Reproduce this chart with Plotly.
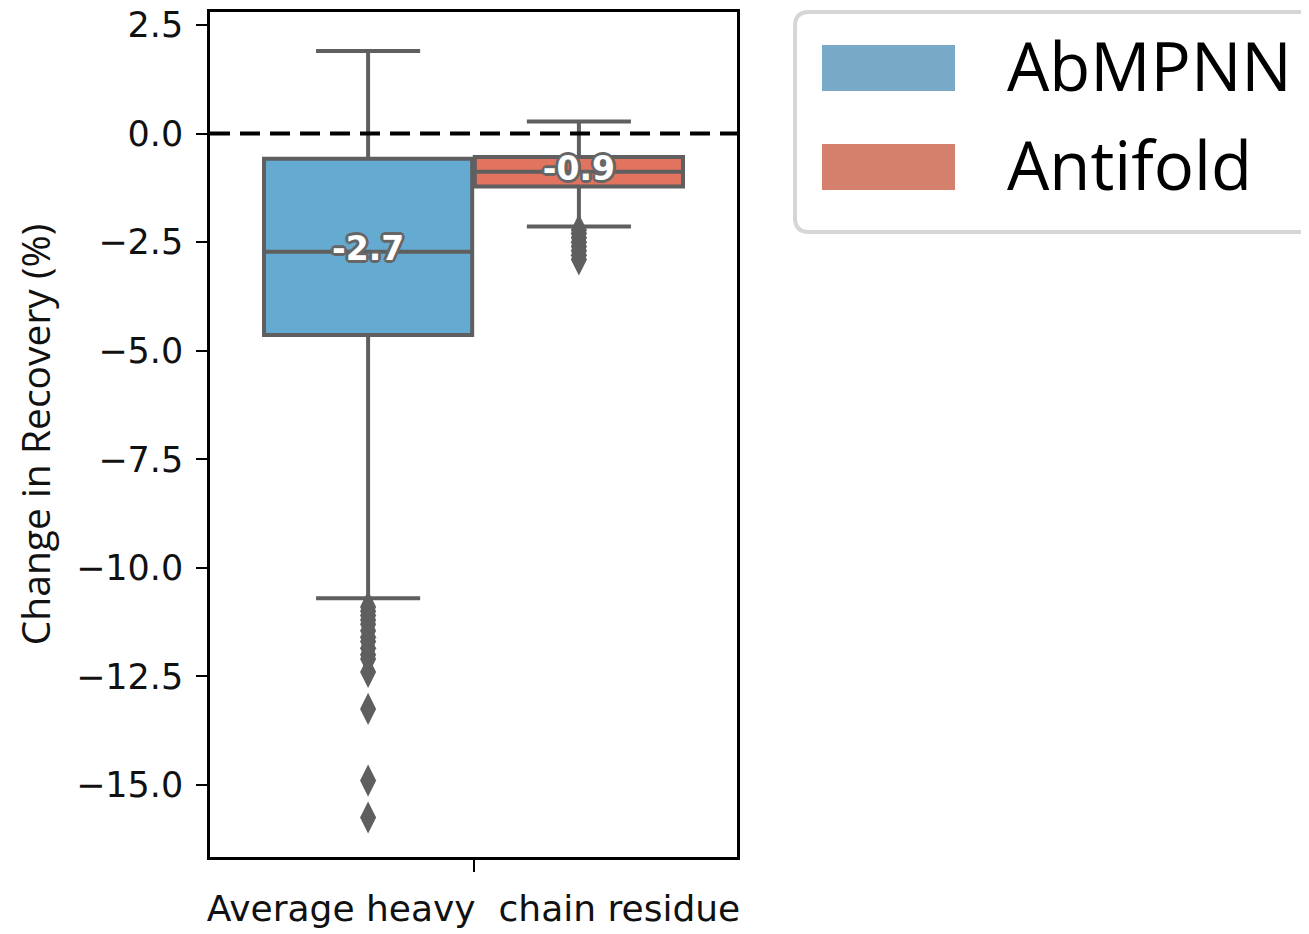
import plotly.graph_objects as go

# ---- data ----
category = ["Average heavy  chain residue"]
series = ["AbMPNN", "Antifold"]
q1 = [-4.64, -1.22]
median = [-2.72, -0.88]
q3 = [-0.58, -0.54]
lower_whisker = [-10.70, -2.14]
upper_whisker = [1.90, 0.28]
outliers_abmpnn = [-10.9, -11.0, -11.1, -11.2, -11.3, -11.45, -11.6, -11.7, -11.85,
                   -12.0, -12.1, -12.4, -13.25, -14.9, -15.75]
outliers_antifold = [-2.22, -2.3, -2.4, -2.5, -2.6, -2.7, -2.8, -2.9]
outliers = [outliers_abmpnn, outliers_antifold]
box_colors = ["#65aad1", "#e2735f"]
legend_colors = ["#78aac8", "#d57f6d"]
yticks = [2.5, 0.0, -2.5, -5.0, -7.5, -10.0, -12.5, -15.0]

# ---- layout constants (page has an 8px body margin) ----
W, H = 1301, 926
PL, PR, PT, PB = 210, 737, 12, 857   # plot area in page pixels
offsets = [-0.2, 0.2]
box_w = 0.395
gray = "#5f5f5f"


def px(x):
    return (x - PL) / (PR - PL)


def py(y):
    return (PB - y) / (PB - PT)


fig = go.Figure()
outline = ", ".join(f"{dx}px {dy}px 0 #666" for dx, dy in
                    [(3, 0), (-3, 0), (0, 3), (0, -3), (2, 2), (-2, -2), (2, -2), (-2, 2)])
for i, name in enumerate(series):
    xpos = 0 + offsets[i]
    fig.add_trace(go.Box(
        x=[xpos], q1=[q1[i]], median=[median[i]], q3=[q3[i]],
        lowerfence=[lower_whisker[i]], upperfence=[upper_whisker[i]],
        name=name, width=box_w, whiskerwidth=0.5,
        fillcolor=box_colors[i], line=dict(color=gray, width=4),
        boxpoints=False, showlegend=False, hoverinfo="skip",
    ))
    fig.add_trace(go.Scatter(
        x=[xpos] * len(outliers[i]), y=outliers[i], mode="markers",
        marker=dict(symbol="diamond-tall", size=23, color=gray, line=dict(width=0)),
        showlegend=False, hoverinfo="skip",
    ))
    fig.add_trace(go.Scatter(
        x=[xpos], y=[median[i]], mode="text",
        text=[f"{median[i]:.1f}"],
        textfont=dict(family="DejaVu Sans", size=33, color="white", weight="bold",
                      shadow=outline),
        showlegend=False, hoverinfo="skip",
    ))

fig.add_hline(y=0, line=dict(color="black", width=4, dash="20px,10px"))

# legend drawn manually (large patches)
lx0, lx1, ly0, ly1, r = 795, 1330, 12, 232, 14
path = (f"M {px(lx0 + r)},{py(ly0)} L {px(lx1)},{py(ly0)} L {px(lx1)},{py(ly1)} "
        f"L {px(lx0 + r)},{py(ly1)} Q {px(lx0)},{py(ly1)} {px(lx0)},{py(ly1 - r)} "
        f"L {px(lx0)},{py(ly0 + r)} Q {px(lx0)},{py(ly0)} {px(lx0 + r)},{py(ly0)} Z")
fig.add_shape(type="path", xref="paper", yref="paper", path=path,
              line=dict(color="#d6d6d6", width=4), fillcolor="white")
for i, name in enumerate(series):
    yc = 68 + i * 99
    fig.add_shape(type="rect", xref="paper", yref="paper",
                  x0=px(822), x1=px(955), y0=py(yc + 23), y1=py(yc - 23),
                  line=dict(width=0), fillcolor=legend_colors[i])
    fig.add_annotation(xref="paper", yref="paper", x=px(1005), y=py(yc - 3),
                       xanchor="left", yanchor="middle", text=name, showarrow=False,
                       font=dict(family="Open Sans", size=67, color="black"))

fig.update_layout(
    width=W, height=H,
    margin=dict(l=PL - 8, r=W - (PR - 8), t=PT - 8, b=H - (PB - 8)),
    paper_bgcolor="white", plot_bgcolor="white",
    font=dict(family="DejaVu Sans", color="black"),
)
fig.update_xaxes(
    range=[-0.5, 0.5], tickvals=[0], ticktext=category, automargin=False,
    ticks="outside", ticklen=12, tickwidth=2, tickcolor="black",
    tickfont=dict(family="DejaVu Sans", size=36, color="#111"),
    ticklabelstandoff=6, ticklabeloverflow="allow",
    showline=True, linecolor="black", linewidth=2.5, mirror=True,
    showgrid=False, zeroline=False,
)
fig.update_yaxes(
    range=[-16.66, 2.8], tickvals=yticks, automargin=False,
    ticktext=[f"{v:.1f}".replace("-", "\u2212") for v in yticks],
    ticks="outside", ticklen=11, tickwidth=2, tickcolor="black",
    tickfont=dict(family="DejaVu Sans", size=35, color="#111"),
    ticklabelstandoff=6, ticklabeloverflow="allow",
    showline=True, linecolor="black", linewidth=2.5, mirror=True,
    showgrid=False, zeroline=False,
    title=dict(text="Change in Recovery (%)", standoff=18,
               font=dict(family="Open Sans", size=39, color="#111")),
)

fig.write_html("out.html")
